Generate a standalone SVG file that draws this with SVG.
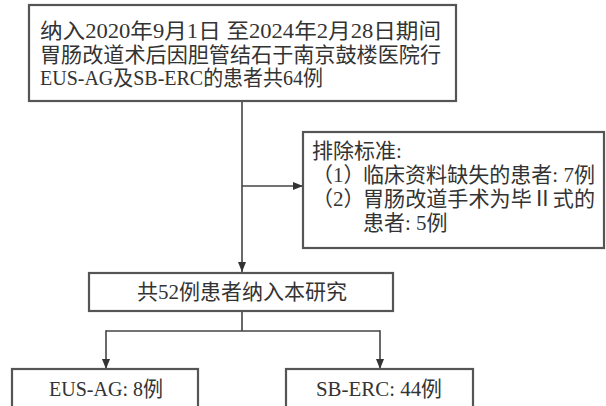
<svg xmlns="http://www.w3.org/2000/svg" width="606" height="406" viewBox="0 0 606 406">
<style>
.box{fill:#fff;stroke:#555;stroke-width:2.2}
.t{font-family:"Liberation Serif","Noto Sans CJK SC",serif;font-size:21px;fill:#333}
.c{text-anchor:middle}
.ln{fill:none;stroke:#444;stroke-width:1.6}
</style>
<defs>
<marker id="ah" markerWidth="10" markerHeight="8" refX="10" refY="4" orient="auto" markerUnits="userSpaceOnUse">
<path d="M0,0 L10,4 L0,8 Z" fill="#333"/>
</marker>
</defs>
<rect width="606" height="406" fill="#fff"/>
<g id="connectors">
<path class="ln" d="M242,101 V272" marker-end="url(#ah)"/>
<path class="ln" d="M242,186 H303" marker-end="url(#ah)"/>
<path class="ln" d="M242,311 V331 M106,331 H380"/>
<path class="ln" d="M106,330.2 V369" marker-end="url(#ah)"/>
<path class="ln" d="M380,330.2 V369" marker-end="url(#ah)"/>
</g>
<g id="n-start">
<rect class="box" x="29" y="5" width="427" height="96"/>
<text class="t" x="40" y="38" textLength="401" lengthAdjust="spacingAndGlyphs">纳入2020年9月1日 至2024年2月28日期间</text>
<text class="t" x="40" y="62" textLength="401" lengthAdjust="spacingAndGlyphs">胃肠改道术后因胆管结石于南京鼓楼医院行</text>
<text class="t" x="40" y="85" textLength="283" lengthAdjust="spacingAndGlyphs">EUS-AG及SB-ERC的患者共64例</text>
</g>
<g id="n-exclude">
<rect class="box" x="303" y="132" width="301" height="116"/>
<text class="t" x="312" y="158">排除标准:</text>
<text class="t" x="312" y="182">（1）</text>
<text class="t" x="363" y="182" textLength="232" lengthAdjust="spacingAndGlyphs">临床资料缺失的患者: 7例</text>
<text class="t" x="312" y="206">（2）</text>
<text class="t" x="363" y="206" textLength="232" lengthAdjust="spacingAndGlyphs">胃肠改道手术为毕Ⅱ式的</text>
<text class="t" x="363" y="230">患者: 5例</text>
</g>
<g id="n-included">
<rect class="box" x="89" y="273" width="304" height="38"/>
<text class="t c" x="242" y="299">共52例患者纳入本研究</text>
</g>
<g id="n-eusag">
<rect class="box" x="12" y="369" width="186" height="45"/>
<text class="t c" x="106" y="396" textLength="114" lengthAdjust="spacingAndGlyphs">EUS-AG: 8例</text>
</g>
<g id="n-sberc">
<rect class="box" x="286" y="369" width="187" height="45"/>
<text class="t c" x="379" y="396" textLength="126" lengthAdjust="spacingAndGlyphs">SB-ERC: 44例</text>
</g>
</svg>
